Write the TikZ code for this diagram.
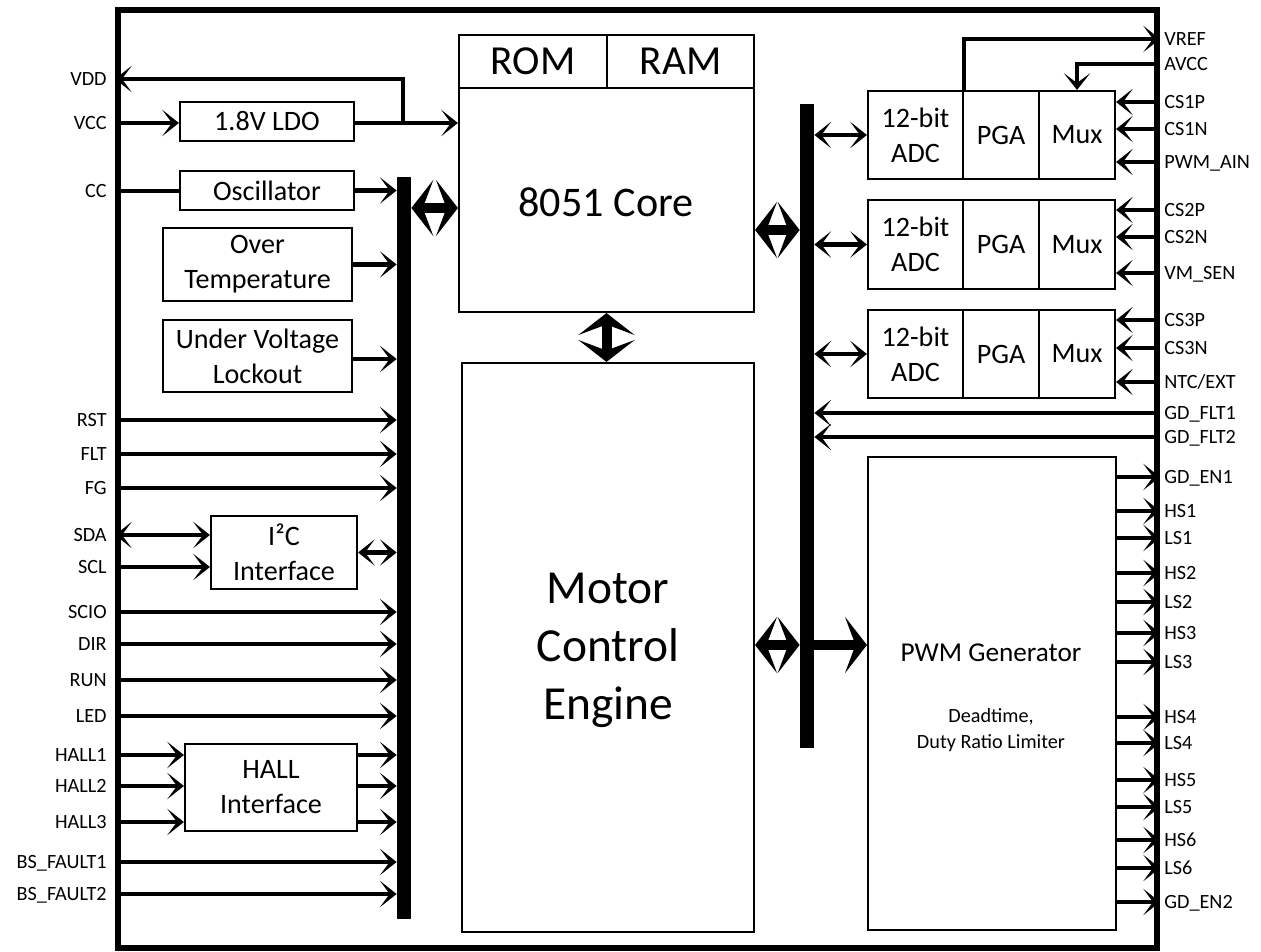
\documentclass[tikz,border=0pt]{standalone}
\usepackage{fontspec}
\setmainfont{Carlito}
\usetikzlibrary{arrows.meta,fit}
\begin{document}
\begin{tikzpicture}[x=0.02cm,y=-0.02cm,
  box/.style={draw, line width=1.2pt, inner sep=0pt},
  txt/.style={inner sep=0pt, align=center},
  bf/.style={txt, font=\fontsize{16}{20}\selectfont},
  lbl/.style={font=\fontsize{11.5}{13}\selectfont, inner sep=0pt, text height=7.3pt, text depth=0pt},
  tip/.tip={Stealth[length=9.5pt,width=15pt,inset=5.5pt]},
  bigtip/.tip={Stealth[length=12.5pt,width=32pt,inset=6pt]},
  sig/.style={line width=2.3pt, -tip},
  sigb/.style={line width=2.3pt, tip-tip},
  plain/.style={line width=2.3pt},
  busarr/.style={line width=5.7pt, bigtip-bigtip},
  busone/.style={line width=5.7pt, -bigtip},
  bus/.style={fill=black, inner sep=0pt},
]
\useasboundingbox (0,0) rectangle (1261,952);
% frame
\node[draw, line width=3.4pt, inner sep=0pt, fit={(118,10) (1157,948)}] (frame) {};
% buses
\node[bus, fit={(397,177) (411,919)}] (lbus) {};
\node[bus, fit={(800,104) (814,748)}] (rbus) {};
% core
\node[box, fit={(459,35) (607,88)}] (rom) {};
\node[txt, font=\fontsize{23.5}{26}\selectfont] (romt) at (rom.center) {ROM};
\node[box, fit={(607,35) (754,88)}] (ram) {};
\node[txt, font=\fontsize{23.5}{26}\selectfont] (ramt) at (ram.center) {RAM};
\node[box, fit={(459,88) (754,312)}] (core) {};
\node[txt, font=\fontsize{24}{28}\selectfont] (coret) at (606,202) {8051 Core};
\node[box, fit={(462,363) (754,932)}] (mce) {};
\node[txt, font=\fontsize{27}{33}\selectfont] (mcet) at (608,650) {Motor\\Control\\Engine};
% left blocks
\node[box, fit={(180,102) (354,141)}] (ldo) {};
\node[bf] (ldot) at (ldo.center) {1.8V LDO};
\node[box, fit={(180,171) (354,210)}] (osc) {};
\node[bf] (osct) at (osc.center) {Oscillator};
\node[box, fit={(163,228) (352,301)}] (ot) {};
\node[bf] (ott) at (ot.center) {Over\\Temperature};
\node[box, fit={(163,320) (352,392)}] (uv) {};
\node[bf] (uvt) at (uv.center) {Under Voltage\\Lockout};
\node[box, fit={(211,516) (357,589)}] (i2c) {};
\node[bf] (i2ct) at (i2c.center) {I²C\\Interface};
\node[box, fit={(185,744) (357,831)}] (hall) {};
\node[bf] (hallt) at (hall.center) {HALL\\Interface};
% ADC groups
\foreach \i/\ya/\yb in {1/91/179, 2/200/289, 3/310/398} {
  \node[box, fit={(868,\ya) (963,\yb)}] (adc\i) {};
  \node[bf] (adct\i) at (adc\i.center) {12-bit\\ADC};
  \node[box, fit={(963,\ya) (1039,\yb)}] (pga\i) {};
  \node[bf] (pgat\i) at (pga\i.center) {PGA};
  \node[box, fit={(1039,\ya) (1115,\yb)}] (mux\i) {};
  \node[bf] (muxt\i) at (mux\i.center) {Mux};
  \draw[sigb] (rbus.east |- adc\i.west) -- (adc\i.west);
}
% PWM generator
\node[box, fit={(868,457) (1116,930)}] (pwm) {};
\node[font=\fontsize{15.5}{18}\selectfont, inner sep=0pt] (pwmt) at (991,653) {PWM Generator};
\node[font=\fontsize{11.5}{14.8}\selectfont, inner sep=0pt, align=center] (pwms) at (991,730) {Deadtime,\\Duty Ratio Limiter};

% ---- left side signals
\node[lbl, anchor=east] (vdd) at (107,79) {VDD};
\node[lbl, anchor=east] (vcc) at (107,123) {VCC};
\node[lbl, anchor=east] (cc) at (107,191) {CC};
\coordinate (jn) at (403,123);
\draw[sig] (frame.west |- vcc) -- (ldo.west |- vcc);
\draw[sig] (ldo.east |- vcc) -- (core.west |- vcc);
\draw[sig] (jn) |- (frame.west |- vdd);
\draw[plain] (frame.west |- cc) -- (osc.west |- cc);
\draw[sig] (osc.east) -- (lbus.west |- osc.east);
\draw[sig] (ot.east) -- (lbus.west |- ot.east);
\draw[sig] (uv.east |- 0,359) -- (lbus.west |- 0,359);

\foreach \n/\t/\y in {rst/RST/420, flt/FLT/454, fg/FG/488, scio/SCIO/612, dir/DIR/644, run/RUN/680, led/LED/716, bsf1/BS\_FAULT1/862, bsf2/BS\_FAULT2/894} {
  \node[lbl, anchor=east] (\n) at (107,\y) {\t};
  \draw[sig] (frame.west |- \n) -- (lbus.west |- \n);
}
\node[lbl, anchor=east] (sda) at (107,535) {SDA};
\node[lbl, anchor=east] (scl) at (107,567) {SCL};
\draw[sigb] (frame.west |- sda) -- (i2c.west |- sda);
\draw[sig] (frame.west |- scl) -- (i2c.west |- scl);
\draw[sigb] (i2c.east) -- (lbus.west |- i2c.east);
\foreach \n/\t/\y in {hall1/HALL1/755, hall2/HALL2/786, hall3/HALL3/822} {
  \node[lbl, anchor=east] (\n) at (107,\y) {\t};
  \draw[sig] (frame.west |- \n) -- (hall.west |- \n);
  \draw[sig] (hall.east |- \n) -- (lbus.west |- \n);
}

% ---- bus arrows
\draw[busarr] (lbus.east |- 0,208) -- (core.west |- 0,208);
\draw[busarr] (core.east |- 0,230) -- (rbus.west |- 0,230);
\draw[busarr] (core.south) -- (core.south |- mce.north);
\draw[busarr] (mce.east |- 0,645) -- (rbus.west |- 0,645);
\draw[busone] (rbus.east |- 0,645) -- (pwm.west |- 0,645);

% ---- right side signals
\node[lbl, anchor=west] (vref) at (1164,39) {VREF};
\node[lbl, anchor=west] (avcc) at (1164,64) {AVCC};
\draw[sig] (adc1.north east) |- (frame.east |- vref);
\draw[sig] (frame.east |- avcc) -| (mux1.north);
\foreach \n/\t/\y/\g in {cs1p/CS1P/102/1, cs1n/CS1N/129/1, pwmain/PWM\_AIN/162/1, cs2p/CS2P/210/2, cs2n/CS2N/237/2, vmsen/VM\_SEN/273/2, cs3p/CS3P/320/3, cs3n/CS3N/348/3, ntc/{NTC/EXT}/382/3} {
  \node[lbl, anchor=west] (\n) at (1164,\y) {\t};
  \draw[sig] (frame.east |- \n) -- (mux\g.east |- \n);
}
\foreach \n/\t/\y in {gdf1/GD\_FLT1/413, gdf2/GD\_FLT2/437} {
  \node[lbl, anchor=west] (\n) at (1164,\y) {\t};
  \draw[sig] (frame.east |- \n) -- (rbus.east |- \n);
}
\foreach \n/\t/\y in {gde1/GD\_EN1/477, hs1/HS1/511, ls1/LS1/538, hs2/HS2/573, ls2/LS2/602, hs3/HS3/633, ls3/LS3/662, hs4/HS4/717, ls4/LS4/743, hs5/HS5/780, ls5/LS5/807, hs6/HS6/840, ls6/LS6/868, gde2/GD\_EN2/902} {
  \node[lbl, anchor=west] (\n) at (1164,\y) {\t};
  \draw[sig] (pwm.east |- \n) -- (frame.east |- \n);
}
\end{tikzpicture}
\end{document}
